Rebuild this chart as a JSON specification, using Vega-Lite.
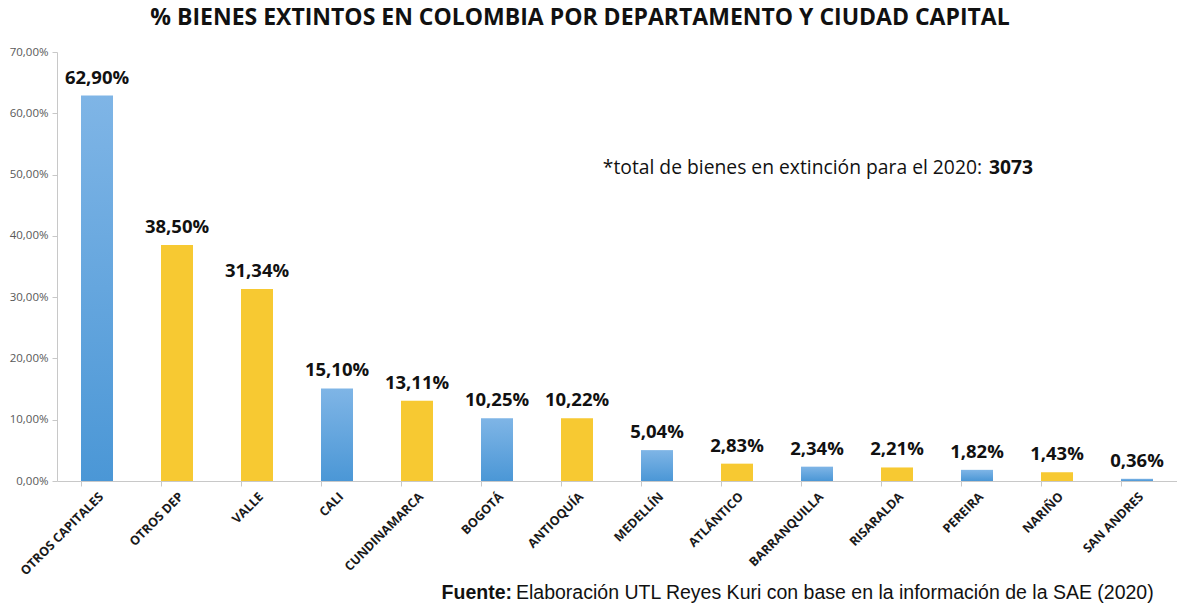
{
  "$schema": "https://vega.github.io/schema/vega-lite/v6.json",
  "autosize": {"type": "none"},
  "padding": {"left": 57, "top": 52, "right": 0, "bottom": 123},
  "width": 1120,
  "height": 429,
  "background": "white",
  "config": {
    "view": {"stroke": null},
    "locale": {"number": {"decimal": ",", "thousands": ".", "grouping": [3], "currency": ["$", ""]}}
  },
  "title": {
    "text": "% BIENES EXTINTOS EN COLOMBIA POR DEPARTAMENTO Y CIUDAD CAPITAL",
    "font": "Open Sans",
    "fontSize": 23,
    "fontWeight": "bold",
    "color": "#111111",
    "anchor": "middle",
    "dx": -37,
    "offset": 16,
    "limit": 0
  },
  "datasets": {
    "bars": [
      {"cat": "OTROS CAPITALES", "value": 0.629, "type": "capital"},
      {"cat": "OTROS DEP", "value": 0.385, "type": "dep"},
      {"cat": "VALLE", "value": 0.3134, "type": "dep"},
      {"cat": "CALI", "value": 0.151, "type": "capital"},
      {"cat": "CUNDINAMARCA", "value": 0.1311, "type": "dep"},
      {"cat": "BOGOTÁ", "value": 0.1025, "type": "capital"},
      {"cat": "ANTIOQUÍA", "value": 0.1022, "type": "dep"},
      {"cat": "MEDELLÍN", "value": 0.0504, "type": "capital"},
      {"cat": "ATLÁNTICO", "value": 0.0283, "type": "dep"},
      {"cat": "BARRANQUILLA", "value": 0.0234, "type": "capital"},
      {"cat": "RISARALDA", "value": 0.0221, "type": "dep"},
      {"cat": "PEREIRA", "value": 0.0182, "type": "capital"},
      {"cat": "NARIÑO", "value": 0.0143, "type": "dep"},
      {"cat": "SAN ANDRES", "value": 0.0036, "type": "capital"}
    ]
  },
  "encoding": {
    "x": {
      "field": "cat",
      "type": "nominal",
      "scale": {
        "domain": ["OTROS CAPITALES", "OTROS DEP", "VALLE", "CALI", "CUNDINAMARCA", "BOGOTÁ", "ANTIOQUÍA", "MEDELLÍN", "ATLÁNTICO", "BARRANQUILLA", "RISARALDA", "PEREIRA", "NARIÑO", "SAN ANDRES"],
        "paddingInner": 0.6,
        "paddingOuter": 0.3
      },
      "axis": {
        "title": null,
        "labelAngle": -45,
        "labelAlign": "right",
        "labelBaseline": "top",
        "labelFont": "Open Sans",
        "labelFontSize": 12.5,
        "labelFontWeight": "bold",
        "labelColor": "#1a1a1a",
        "labelPadding": 4,
        "labelLimit": 0,
        "domainColor": "#c8c8c8",
        "tickColor": "#c8c8c8",
        "tickSize": 5,
        "bandPosition": 0,
        "grid": false
      }
    },
    "y": {
      "field": "value",
      "type": "quantitative",
      "scale": {"domain": [0, 0.7], "nice": false},
      "axis": {
        "title": null,
        "format": ".2%",
        "values": [0, 0.1, 0.2, 0.3, 0.4, 0.5, 0.6, 0.7],
        "labelFont": "Open Sans",
        "labelFontSize": 11.5,
        "labelColor": "#595959",
        "labelPadding": 4,
        "domainColor": "#c8c8c8",
        "tickColor": "#c8c8c8",
        "tickSize": 5,
        "grid": false
      }
    }
  },
  "layer": [
    {
      "data": {"name": "bars"},
      "transform": [{"filter": "datum.type === 'capital'"}],
      "mark": {
        "type": "bar",
        "color": {
          "gradient": "linear",
          "x1": 0, "y1": 0, "x2": 0, "y2": 1,
          "stops": [{"offset": 0, "color": "#7fb5e6"}, {"offset": 1, "color": "#4b97d6"}]
        }
      }
    },
    {
      "data": {"name": "bars"},
      "transform": [{"filter": "datum.type === 'dep'"}],
      "mark": {"type": "bar", "color": "#f7c932"}
    },
    {
      "data": {"name": "bars"},
      "mark": {"type": "text", "font": "Open Sans", "fontSize": 18.5, "fontWeight": "bold", "color": "#111111", "baseline": "bottom", "dy": -8},
      "encoding": {"text": {"field": "value", "type": "quantitative", "format": ".2%"}}
    },
    {
      "data": {"values": [{"cat": "PEREIRA", "value": 0.5107, "label": "*total de bienes en extinción para el 2020:"}]},
      "mark": {"type": "text", "font": "Open Sans", "fontSize": 19.3, "color": "#111111", "align": "right", "baseline": "middle", "dx": 5},
      "encoding": {"text": {"field": "label"}}
    },
    {
      "data": {"values": [{"cat": "PEREIRA", "value": 0.5107, "label": "3073"}]},
      "mark": {"type": "text", "font": "Open Sans", "fontSize": 19.3, "fontWeight": "bold", "color": "#111111", "align": "left", "baseline": "middle", "dx": 12},
      "encoding": {"text": {"field": "label"}}
    },
    {
      "data": {"values": [{"cat": "BOGOTÁ", "value": -0.1827, "label": "Fuente:"}]},
      "mark": {"type": "text", "font": "Liberation Sans", "fontSize": 19.5, "fontWeight": "bold", "color": "#111111", "align": "right", "baseline": "middle", "dx": 15},
      "encoding": {"text": {"field": "label"}}
    },
    {
      "data": {"values": [{"cat": "BOGOTÁ", "value": -0.1827, "label": "Elaboración UTL Reyes Kuri con base en la información de la SAE (2020)"}]},
      "mark": {"type": "text", "font": "Liberation Sans", "fontSize": 19.5, "color": "#111111", "align": "left", "baseline": "middle", "dx": 19},
      "encoding": {"text": {"field": "label"}}
    }
  ]
}
